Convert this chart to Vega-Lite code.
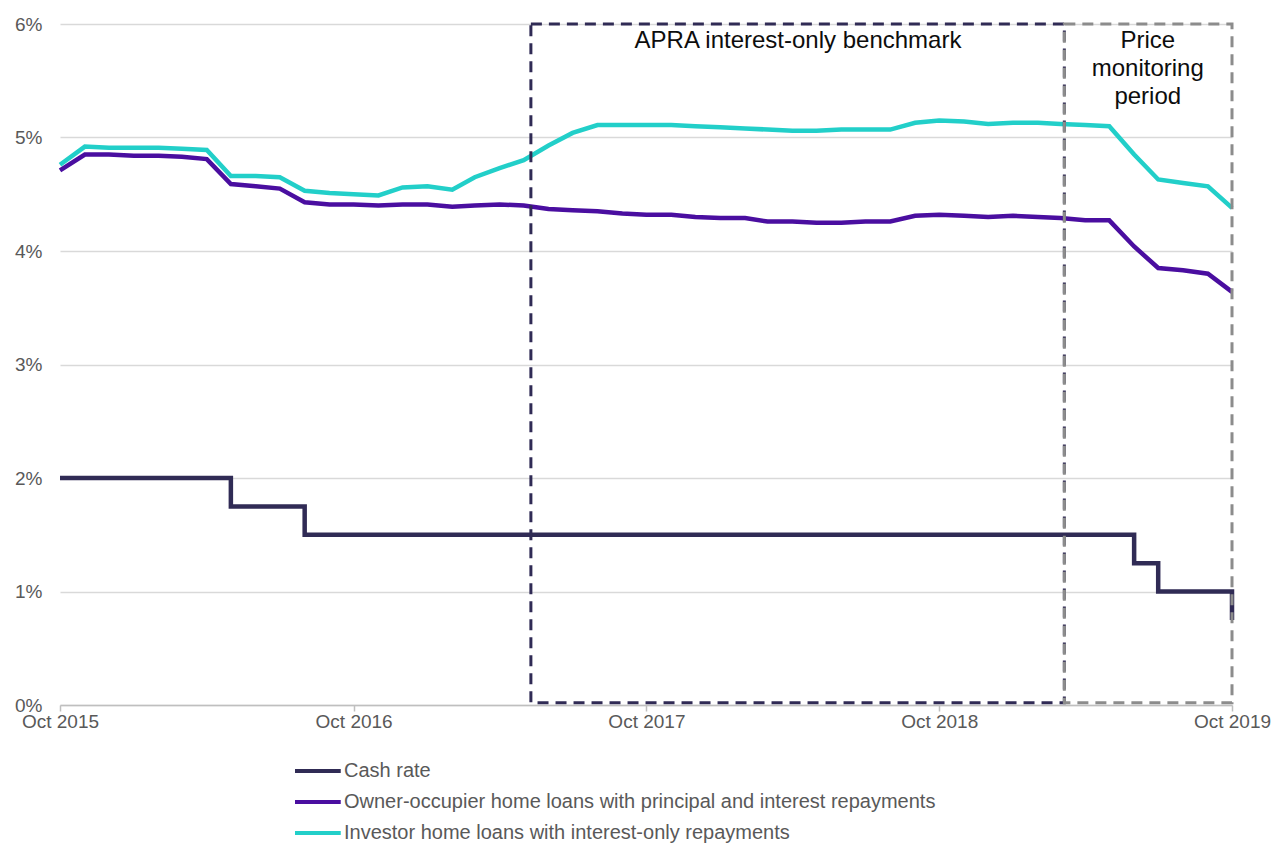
{
  "$schema": "https://vega.github.io/schema/vega-lite/v6.json",
  "width": 1172,
  "height": 681,
  "autosize": {"type": "none"},
  "padding": {"left": 60, "top": 24, "right": 43, "bottom": 138},
  "background": "white",
  "config": {
    "font": "Liberation Sans",
    "view": {"stroke": null},
    "axis": {"labelFont": "Liberation Sans", "labelFontSize": 19, "labelColor": "#595959", "title": null},
    "legend": {
      "orient": "none",
      "legendX": 233,
      "legendY": 730,
      "direction": "vertical",
      "padding": 0,
      "symbolType": "M-1,0H2.05",
      "symbolSize": 900,
      "symbolStrokeWidth": 4,
      "labelFont": "Liberation Sans",
      "labelFontSize": 20,
      "labelColor": "#595959",
      "labelOffset": 17,
      "labelLimit": 1000,
      "rowPadding": 4
    }
  },
  "datasets": {
    "rates": [
      {"month": "2015-10-01", "cash": 2.0, "oo": 4.71, "io": 4.76},
      {"month": "2015-11-01", "cash": 2.0, "oo": 4.85, "io": 4.92},
      {"month": "2015-12-01", "cash": 2.0, "oo": 4.85, "io": 4.91},
      {"month": "2016-01-01", "cash": 2.0, "oo": 4.84, "io": 4.91},
      {"month": "2016-02-01", "cash": 2.0, "oo": 4.84, "io": 4.91},
      {"month": "2016-03-01", "cash": 2.0, "oo": 4.83, "io": 4.90},
      {"month": "2016-04-01", "cash": 2.0, "oo": 4.81, "io": 4.89},
      {"month": "2016-05-01", "cash": 1.75, "oo": 4.59, "io": 4.66},
      {"month": "2016-06-01", "cash": 1.75, "oo": 4.57, "io": 4.66},
      {"month": "2016-07-01", "cash": 1.75, "oo": 4.55, "io": 4.65},
      {"month": "2016-08-01", "cash": 1.5, "oo": 4.43, "io": 4.53},
      {"month": "2016-09-01", "cash": 1.5, "oo": 4.41, "io": 4.51},
      {"month": "2016-10-01", "cash": 1.5, "oo": 4.41, "io": 4.50},
      {"month": "2016-11-01", "cash": 1.5, "oo": 4.40, "io": 4.49},
      {"month": "2016-12-01", "cash": 1.5, "oo": 4.41, "io": 4.56},
      {"month": "2017-01-01", "cash": 1.5, "oo": 4.41, "io": 4.57},
      {"month": "2017-02-01", "cash": 1.5, "oo": 4.39, "io": 4.54},
      {"month": "2017-03-01", "cash": 1.5, "oo": 4.40, "io": 4.65},
      {"month": "2017-04-01", "cash": 1.5, "oo": 4.41, "io": 4.73},
      {"month": "2017-05-01", "cash": 1.5, "oo": 4.40, "io": 4.80},
      {"month": "2017-06-01", "cash": 1.5, "oo": 4.37, "io": 4.93},
      {"month": "2017-07-01", "cash": 1.5, "oo": 4.36, "io": 5.04},
      {"month": "2017-08-01", "cash": 1.5, "oo": 4.35, "io": 5.11},
      {"month": "2017-09-01", "cash": 1.5, "oo": 4.33, "io": 5.11},
      {"month": "2017-10-01", "cash": 1.5, "oo": 4.32, "io": 5.11},
      {"month": "2017-11-01", "cash": 1.5, "oo": 4.32, "io": 5.11},
      {"month": "2017-12-01", "cash": 1.5, "oo": 4.30, "io": 5.10},
      {"month": "2018-01-01", "cash": 1.5, "oo": 4.29, "io": 5.09},
      {"month": "2018-02-01", "cash": 1.5, "oo": 4.29, "io": 5.08},
      {"month": "2018-03-01", "cash": 1.5, "oo": 4.26, "io": 5.07},
      {"month": "2018-04-01", "cash": 1.5, "oo": 4.26, "io": 5.06},
      {"month": "2018-05-01", "cash": 1.5, "oo": 4.25, "io": 5.06},
      {"month": "2018-06-01", "cash": 1.5, "oo": 4.25, "io": 5.07},
      {"month": "2018-07-01", "cash": 1.5, "oo": 4.26, "io": 5.07},
      {"month": "2018-08-01", "cash": 1.5, "oo": 4.26, "io": 5.07},
      {"month": "2018-09-01", "cash": 1.5, "oo": 4.31, "io": 5.13},
      {"month": "2018-10-01", "cash": 1.5, "oo": 4.32, "io": 5.15},
      {"month": "2018-11-01", "cash": 1.5, "oo": 4.31, "io": 5.14},
      {"month": "2018-12-01", "cash": 1.5, "oo": 4.30, "io": 5.12},
      {"month": "2019-01-01", "cash": 1.5, "oo": 4.31, "io": 5.13},
      {"month": "2019-02-01", "cash": 1.5, "oo": 4.30, "io": 5.13},
      {"month": "2019-03-01", "cash": 1.5, "oo": 4.29, "io": 5.12},
      {"month": "2019-04-01", "cash": 1.5, "oo": 4.27, "io": 5.11},
      {"month": "2019-05-01", "cash": 1.5, "oo": 4.27, "io": 5.10},
      {"month": "2019-06-01", "cash": 1.25, "oo": 4.04, "io": 4.85},
      {"month": "2019-07-01", "cash": 1.0, "oo": 3.85, "io": 4.63},
      {"month": "2019-08-01", "cash": 1.0, "oo": 3.83, "io": 4.60},
      {"month": "2019-09-01", "cash": 1.0, "oo": 3.80, "io": 4.57},
      {"month": "2019-10-01", "cash": 0.75, "oo": 3.64, "io": 4.38}
    ],
    "apraPeriod": [{"start": "2017-05-10", "end": "2019-03-06", "low": 0.02, "high": 6}],
    "pricePeriod": [{"start": "2019-03-06", "end": "2019-10-01", "low": 0.02, "high": 6}],
    "notes": [
      {"when": "2018-04-08", "level": 5.96, "note": "APRA interest-only benchmark"},
      {"when": "2019-06-18", "level": 5.96, "note": "Price\nmonitoring\nperiod"}
    ]
  },
  "encoding": {
    "x": {
      "field": "month",
      "type": "temporal",
      "scale": {
        "type": "utc",
        "domain": [
          {"year": 2015, "month": 10, "date": 1, "utc": true},
          {"year": 2019, "month": 10, "date": 1, "utc": true}
        ]
      },
      "axis": {
        "values": [
          {"year": 2015, "month": 10, "date": 1, "utc": true},
          {"year": 2016, "month": 10, "date": 1, "utc": true},
          {"year": 2017, "month": 10, "date": 1, "utc": true},
          {"year": 2018, "month": 10, "date": 1, "utc": true},
          {"year": 2019, "month": 10, "date": 1, "utc": true}
        ],
        "format": "%b %Y",
        "grid": false,
        "domainColor": "#bfbfbf",
        "domainWidth": 1.5,
        "tickColor": "#bfbfbf",
        "tickWidth": 1.5,
        "tickSize": 6,
        "labelPadding": 1,
        "labelFlush": false,
        "labelOverlap": false
      }
    },
    "y": {
      "field": "rate",
      "type": "quantitative",
      "scale": {"domain": [0, 6], "nice": false, "zero": true},
      "axis": {
        "values": [0, 1, 2, 3, 4, 5, 6],
        "labelExpr": "datum.value + '%'",
        "grid": true,
        "gridColor": "#d9d9d9",
        "gridWidth": 1.5,
        "domain": false,
        "ticks": false,
        "labelPadding": 18
      }
    }
  },
  "layer": [
    {
      "data": {"name": "rates"},
      "transform": [{"fold": ["oo", "io"], "as": ["series", "rate"]}],
      "mark": {"type": "line", "strokeWidth": 4.5, "interpolate": "linear"},
      "encoding": {
        "color": {
          "field": "series",
          "type": "nominal",
          "scale": {"domain": ["cash", "oo", "io"], "range": ["#302b55", "#4a0ea0", "#22cfc9"]},
          "legend": {
            "title": null,
            "labelExpr": "datum.label == 'cash' ? 'Cash rate' : datum.label == 'oo' ? 'Owner-occupier home loans with principal and interest repayments' : 'Investor home loans with interest-only repayments'"
          }
        }
      }
    },
    {
      "data": {"name": "rates"},
      "transform": [{"fold": ["cash"], "as": ["series", "rate"]}],
      "mark": {"type": "line", "strokeWidth": 4.5, "interpolate": "step-after"},
      "encoding": {
        "color": {"field": "series", "type": "nominal"}
      }
    },
    {
      "data": {"name": "apraPeriod"},
      "mark": {"type": "rect", "filled": false, "color": "#302b55", "strokeWidth": 3, "strokeDash": [11, 7]},
      "encoding": {
        "x": {"field": "start", "type": "temporal"},
        "x2": {"field": "end"},
        "y": {"field": "low", "type": "quantitative"},
        "y2": {"field": "high"}
      }
    },
    {
      "data": {"name": "pricePeriod"},
      "mark": {"type": "rect", "filled": false, "color": "#8c8c8c", "strokeWidth": 3, "strokeDash": [11, 7]},
      "encoding": {
        "x": {"field": "start", "type": "temporal"},
        "x2": {"field": "end"},
        "y": {"field": "low", "type": "quantitative"},
        "y2": {"field": "high"}
      }
    },
    {
      "data": {"name": "notes"},
      "mark": {"type": "text", "align": "center", "baseline": "top", "fontSize": 24, "lineHeight": 28, "lineBreak": "\n", "color": "#0d0d0d", "font": "Liberation Sans"},
      "encoding": {
        "x": {"field": "when", "type": "temporal"},
        "y": {"field": "level", "type": "quantitative"},
        "text": {"field": "note", "type": "nominal"}
      }
    }
  ]
}
